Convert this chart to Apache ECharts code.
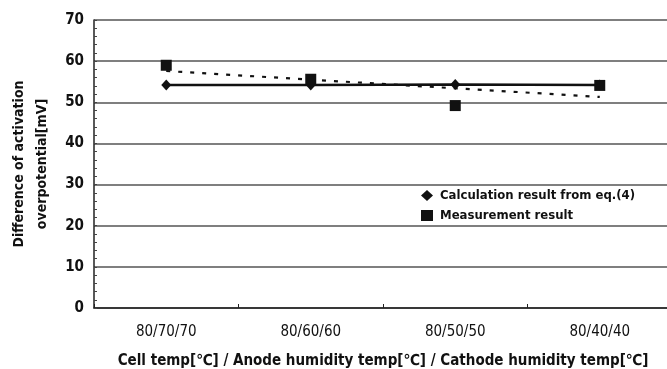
<!DOCTYPE html>
<html>
<head>
<meta charset="utf-8">
<style>
  html, body { margin: 0; padding: 0; background: #fff; }
  #chart { width: 667px; height: 369px; }
</style>
<script src="https://cdn.jsdelivr.net/npm/echarts@6/dist/echarts.min.js"></script>
</head>
<body>
<div id="chart"></div>
<script>
// Operating conditions (cell / anode humidity / cathode humidity temperatures)
const categories = ['80/70/70', '80/60/60', '80/50/50', '80/40/40'];
// Difference of activation overpotential [mV]
const calculated = [54.2, 54.2, 54.3, 54.2];
const measured = [59.0, 55.6, 49.2, 54.1];
// Linear trend of the measurement, at the first and last condition
const trendEnds = [57.6, 51.3];
const yTicks = [0, 10, 20, 30, 40, 50, 60, 70];

const FONT = '"DejaVu Sans Condensed", "DejaVu Sans", sans-serif';

const chart = echarts.init(document.getElementById('chart'), null, { renderer: 'canvas' });

chart.setOption({
  animation: false,
  backgroundColor: '#ffffff',
  grid: { left: 94, top: 20, width: 578, height: 288, containLabel: false, outerBoundsMode: 'none' },
  legend: {
    orient: 'vertical',
    left: 416,
    top: 184,
    itemGap: 7,
    itemWidth: 12,
    itemHeight: 11,
    data: [
      { name: 'Calculation result from eq.(4)', icon: 'diamond' },
      { name: 'Measurement result', icon: 'rect' }
    ],
    textStyle: { fontFamily: FONT, fontSize: 13, fontWeight: 'bold', color: '#111', padding: [0, 0, 0, 2] }
  },
  xAxis: {
    type: 'category',
    data: categories,
    boundaryGap: true,
    name: 'Cell temp[℃] / Anode humidity temp[℃] / Cathode humidity temp[℃]',
    nameLocation: 'middle',
    nameGap: 46,
    nameTextStyle: { fontFamily: FONT, fontSize: 15, fontWeight: 'bold', color: '#111' },
    axisLine: { lineStyle: { color: '#222', width: 1.5 } },
    axisTick: { show: true, inside: true, length: 4, lineStyle: { color: '#222' } },
    axisLabel: { fontFamily: FONT, fontSize: 15, color: '#111', margin: 17 },
    splitLine: { show: false }
  },
  yAxis: {
    type: 'value',
    min: yTicks[0],
    max: yTicks[yTicks.length - 1],
    interval: 10,
    name: 'Difference of activation\noverpotential[mV]',
    nameLocation: 'middle',
    nameGap: 39,
    nameRotate: 90,
    nameTextStyle: { fontFamily: FONT, fontSize: 14, fontWeight: 'bold', color: '#111', lineHeight: 23 },
    axisLine: { show: true, lineStyle: { color: '#222', width: 1.5 } },
    axisTick: { show: true, inside: true, length: 3, lineStyle: { color: '#444' } },
    minorTick: { show: true, splitNumber: 5, length: 3, lineStyle: { color: '#444' } },
    axisLabel: { fontFamily: FONT, fontSize: 15, fontWeight: 'bold', color: '#111', margin: 10 },
    splitLine: { show: true, lineStyle: { color: '#555', width: 1.5 } }
  },
  series: [
    {
      name: 'Measurement trend',
      type: 'line',
      data: [[categories[0], trendEnds[0]], [categories[categories.length - 1], trendEnds[1]]],
      symbol: 'none',
      lineStyle: { color: '#111', width: 2.2, type: [4, 8] },
      z: 2,
      silent: true
    },
    {
      name: 'Calculation result from eq.(4)',
      type: 'line',
      data: calculated,
      symbol: 'diamond',
      symbolSize: [10, 11],
      itemStyle: { color: '#111' },
      lineStyle: { color: '#111', width: 2.5 },
      z: 3
    },
    {
      name: 'Measurement result',
      type: 'line',
      data: measured,
      symbol: 'rect',
      symbolSize: 11,
      itemStyle: { color: '#111' },
      lineStyle: { width: 0, opacity: 0 },
      z: 4
    }
  ]
});
</script>
</body>
</html>
